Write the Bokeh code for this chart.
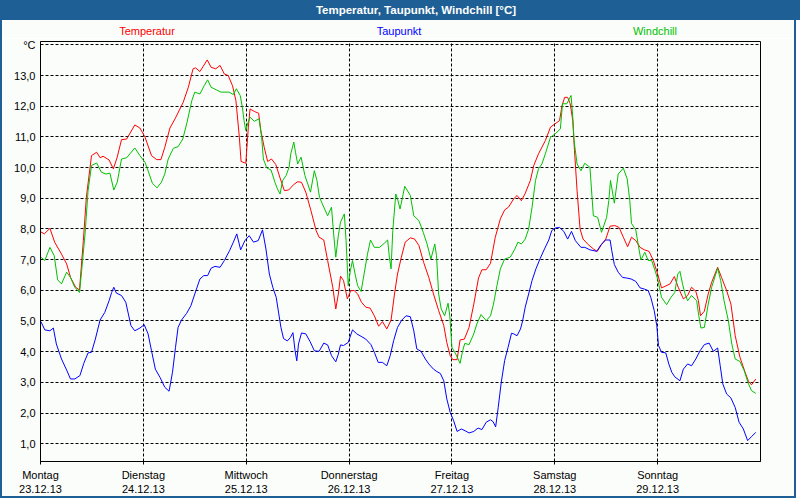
from bokeh.plotting import figure
from bokeh.models import Range1d, FixedTicker, Div
from bokeh.layouts import column
from bokeh.embed import file_html
from bokeh.resources import INLINE

FONT = "Liberation Sans"
BAR = "#1e5f95"
BG = "#fbfdfb"

# hours since Mon 23.12.13 00:00
day_hours = [0, 24, 48, 72, 96, 120, 144]
day_labels = ["Montag\n23.12.13", "Dienstag\n24.12.13", "Mittwoch\n25.12.13",
              "Donnerstag\n26.12.13", "Freitag\n27.12.13", "Samstag\n28.12.13",
              "Sonntag\n29.12.13"]
y_ticks = [1, 2, 3, 4, 5, 6, 7, 8, 9, 10, 11, 12, 13, 14]
y_labels = ["1,0", "2,0", "3,0", "4,0", "5,0", "6,0", "7,0", "8,0", "9,0",
            "10,0", "11,0", "12,0", "13,0", "°C"]

temp_h = [0.0, 0.9, 2.2, 3.3, 4.9, 6.1, 7.0, 8.2, 9.1, 10.0, 10.7, 11.9, 13.1, 13.9,
          14.6, 16.0, 17.0, 17.9, 18.9, 20.1, 22.0, 23.2, 24.4, 25.9, 27.1, 28.1,
          29.0, 30.2, 31.4, 33.3, 34.5, 35.6, 36.2, 37.2, 38.9, 39.8, 40.9, 41.9,
          42.9, 43.8, 44.8, 45.6, 46.4, 46.8, 47.9, 48.5, 48.9, 49.9, 50.9, 51.4,
          52.2, 53.0, 53.9, 54.9, 55.9, 56.9, 57.9, 59.1, 60.0, 60.9, 61.9, 63.1,
          64.3, 65.0, 66.1, 67.0, 68.2, 68.9, 69.5, 70.0, 70.7, 71.6, 72.4, 73.2,
          74.0, 74.9, 75.9, 76.9, 77.9, 78.9, 79.8, 80.8, 81.8, 82.6, 83.3, 84.2,
          85.1, 86.3, 87.3, 88.3, 89.4, 90.6, 91.7, 92.9, 94.1, 94.8, 95.6, 96.2,
          97.2, 97.9, 98.9, 100.0, 101.1, 102.2, 103.0, 104.0, 105.0, 106.1, 107.3,
          108.3, 109.2, 110.4, 111.2, 112.2, 113.1, 114.3, 115.1, 116.2, 117.8,
          119.0, 120.0, 121.1, 121.7, 122.3, 123.0, 123.6, 124.2, 124.6, 125.2,
          125.9, 126.6, 127.8, 129.0, 129.9, 130.9, 131.9, 132.9, 134.0, 135.0,
          136.0, 137.0, 137.9, 138.9, 139.9, 140.9, 142.0, 143.0, 144.0, 144.9,
          145.9, 146.9, 147.9, 148.8, 150.0, 151.0, 151.9, 152.9, 153.5, 154.0,
          154.9, 155.8, 156.6, 158.0, 158.9, 160.1, 161.1, 162.1, 163.2, 164.4,
          165.2, 165.9, 166.9]
temp_c = [7.91, 7.84, 8.02, 7.57, 7.18, 6.86, 6.42, 6.10, 6.01, 7.62, 9.03, 10.39,
          10.50, 10.32, 10.37, 10.25, 9.96, 10.34, 10.91, 10.93, 11.39, 11.29, 10.99,
          10.39, 10.26, 10.26, 10.66, 11.29, 11.59, 12.13, 12.62, 13.22, 13.25,
          13.13, 13.51, 13.27, 13.22, 13.33, 13.05, 13.00, 12.67, 12.18, 10.99,
          10.20, 10.14, 11.32, 11.91, 11.83, 11.77, 11.21, 10.66, 10.20, 10.28,
          10.10, 9.66, 9.25, 9.27, 9.45, 9.54, 9.52, 9.20, 8.60, 7.95, 7.73, 7.64,
          6.97, 6.10, 5.39, 5.88, 6.46, 6.32, 5.72, 5.99, 5.99, 5.88, 5.61, 5.45,
          5.42, 5.17, 4.83, 4.98, 4.74, 5.03, 5.88, 6.53, 7.08, 7.57, 7.71, 7.67,
          7.46, 6.91, 6.42, 5.88, 5.34, 4.85, 4.30, 3.87, 3.74, 3.74, 4.38, 4.41,
          4.79, 5.55, 6.40, 6.67, 6.67, 6.88, 7.72, 8.33, 8.62, 8.71, 8.98, 9.09,
          8.92, 9.16, 9.58, 10.07, 10.45, 10.88, 11.32, 11.42, 11.53, 12.02, 12.29,
          12.29, 12.08, 11.53, 10.55, 9.25, 8.00, 7.67, 7.49, 7.35, 7.27, 7.49, 7.67,
          8.09, 8.11, 8.05, 7.73, 7.42, 7.73, 7.62, 7.40, 7.32, 7.27, 6.97, 6.53,
          6.08, 6.14, 6.21, 6.45, 6.10, 5.72, 5.83, 6.10, 5.97, 5.67, 5.17, 5.32,
          5.88, 6.26, 6.75, 6.42, 5.99, 5.55, 4.52, 3.82, 3.33, 3.03, 2.92, 3.11]

dew_h = [0.1, 1.0, 2.2, 3.0, 3.7, 4.9, 6.1, 7.0, 8.0, 9.2, 10.1, 11.1, 11.9, 12.8,
         13.9, 15.0, 16.0, 16.6, 17.1, 17.7, 18.9, 19.9, 20.5, 21.1, 22.0, 23.2,
         24.2, 25.1, 25.9, 26.8, 27.9, 29.0, 30.0, 30.8, 31.5, 32.1, 32.9, 34.1,
         35.1, 36.0, 37.2, 38.1, 39.0, 39.8, 40.7, 41.9, 42.9, 44.1, 45.0, 45.8,
         46.7, 47.7, 48.7, 49.7, 50.8, 51.8, 52.6, 53.4, 54.2, 55.0, 55.6, 56.1,
         56.7, 57.6, 58.3, 58.9, 59.4, 59.8, 60.2, 60.9, 61.9, 62.9, 63.9, 65.0,
         66.1, 67.0, 67.9, 68.9, 69.5, 70.0, 70.7, 71.8, 72.8, 73.8, 74.8, 75.9,
         77.1, 77.9, 78.8, 79.8, 80.8, 81.6, 82.4, 83.3, 84.3, 85.3, 86.3, 87.1,
         87.8, 88.8, 89.8, 90.6, 91.7, 92.5, 93.3, 94.1, 94.8, 95.6, 96.4, 97.2,
         98.2, 99.1, 100.0, 101.1, 102.1, 103.0, 104.0, 105.0, 105.6, 106.2, 106.8,
         107.5, 108.3, 109.1, 109.9, 110.4, 111.2, 112.0, 112.5, 113.1, 113.9,
         114.7, 115.6, 116.6, 117.6, 118.6, 119.3, 120.1, 121.1, 122.1, 123.0,
         123.9, 124.8, 126.1, 127.0, 128.2, 129.8, 130.8, 131.9, 132.9, 133.3,
         133.9, 134.8, 135.8, 136.8, 137.8, 138.9, 139.9, 140.9, 141.8, 142.4,
         143.2, 143.8, 144.2, 144.9, 145.9, 146.6, 147.3, 148.0, 149.2, 150.0,
         151.0, 151.9, 152.9, 153.9, 154.9, 156.0, 157.0, 158.0, 158.6, 159.2,
         160.1, 161.1, 162.1, 163.0, 164.0, 165.0, 165.9, 166.9]
dew_c = [4.98, 4.71, 4.68, 4.77, 4.25, 3.76, 3.40, 3.11, 3.11, 3.22, 3.62, 3.96, 3.98,
         4.41, 5.03, 5.28, 5.66, 5.93, 6.10, 5.91, 5.83, 5.61, 5.23, 4.85, 4.68, 4.77,
         4.88, 4.58, 4.03, 3.43, 3.16, 2.84, 2.71, 3.33, 4.14, 4.79, 5.03, 5.25, 5.50,
         5.88, 6.37, 6.48, 6.48, 6.72, 6.78, 6.75, 6.97, 7.29, 7.57, 7.84, 7.32, 7.62,
         7.78, 7.57, 7.62, 7.97, 7.35, 6.53, 6.10, 5.77, 5.23, 4.79, 4.43, 4.35, 4.46,
         4.62, 4.03, 3.70, 4.25, 4.61, 4.58, 4.33, 4.03, 4.01, 4.28, 4.22, 3.87, 3.67,
         3.92, 4.22, 4.20, 4.30, 4.71, 4.58, 4.50, 4.41, 4.23, 3.98, 3.65, 3.65, 3.54,
         3.87, 4.36, 4.79, 5.03, 5.17, 5.14, 4.68, 4.09, 4.01, 3.76, 3.60, 3.43, 3.35,
         3.29, 3.05, 2.46, 2.02, 1.75, 1.40, 1.48, 1.42, 1.35, 1.40, 1.51, 1.46, 1.70,
         1.78, 1.72, 1.55, 2.18, 2.99, 3.71, 4.14, 4.60, 4.58, 4.52, 4.74, 5.01, 5.45,
         5.88, 6.32, 6.70, 7.04, 7.35, 7.64, 7.95, 8.03, 8.05, 7.92, 7.67, 7.92, 7.62,
         7.40, 7.40, 7.32, 7.27, 7.49, 7.64, 7.64, 7.29, 6.84, 6.59, 6.42, 6.40, 6.37,
         6.29, 6.08, 6.04, 5.99, 5.77, 5.34, 4.85, 4.20, 3.98, 3.96, 3.60, 3.33, 3.18,
         3.05, 3.43, 3.60, 3.54, 3.76, 4.03, 4.23, 4.28, 4.01, 4.12, 3.54, 2.95, 2.62,
         2.49, 2.18, 1.70, 1.48, 1.10, 1.23, 1.37]

chill_h = [0.1, 1.0, 2.2, 3.2, 4.0, 4.9, 6.1, 7.0, 8.0, 9.1, 9.6, 10.4, 11.1, 11.9,
           13.1, 14.2, 15.3, 16.2, 17.1, 17.9, 18.9, 20.1, 22.0, 23.2, 24.4, 25.1,
           26.1, 27.2, 28.2, 29.0, 29.8, 31.0, 32.1, 33.2, 34.2, 35.3, 36.0, 37.2,
           38.2, 39.0, 39.8, 41.1, 42.1, 44.0, 45.0, 45.7, 46.6, 47.1, 47.5, 47.9,
           48.3, 48.9, 49.9, 51.0, 51.6, 52.0, 52.8, 53.8, 54.7, 55.3, 55.9, 56.5,
           57.3, 58.0, 58.4, 59.1, 59.5, 60.0, 60.8, 61.7, 63.0, 63.9, 64.5, 65.1,
           66.1, 67.0, 67.9, 68.4, 68.9, 69.5, 70.0, 70.9, 71.3, 71.8, 72.3, 72.8,
           73.4, 74.0, 74.8, 75.5, 76.3, 77.0, 77.9, 79.1, 80.2, 81.0, 81.4, 81.8,
           82.2, 82.9, 83.3, 83.9, 85.0, 86.3, 87.1, 88.3, 89.3, 90.2, 91.1, 92.0,
           92.4, 92.9, 93.5, 94.3, 95.1, 95.5, 96.0, 96.9, 97.9, 98.5, 99.0, 100.0,
           101.1, 101.8, 102.8, 104.0, 105.0, 105.7, 106.5, 107.3, 108.3, 109.6,
           110.6, 111.4, 112.2, 113.1, 113.9, 114.7, 115.5, 116.2, 117.0, 117.8,
           119.0, 120.1, 121.3, 121.8, 122.8, 123.4, 123.8, 124.2, 124.5, 125.2,
           126.1, 127.0, 128.2, 129.0, 130.0, 130.9, 132.1, 132.6, 133.0, 133.9,
           134.8, 136.0, 136.9, 137.5, 137.9, 138.9, 139.5, 140.1, 141.0, 141.8,
           142.6, 143.4, 144.0, 144.9, 146.1, 147.1, 148.0, 148.7, 149.2, 149.8,
           150.4, 151.0, 151.9, 153.1, 153.6, 154.1, 154.9, 155.8, 156.6, 158.0,
           158.7, 159.5, 160.5, 161.3, 162.1, 163.2, 164.2, 165.2, 165.9, 166.9]
chill_c = [7.08, 6.97, 7.40, 7.13, 6.34, 6.21, 6.59, 6.42, 6.10, 5.93, 6.64, 7.84,
           9.25, 10.07, 10.15, 9.85, 9.79, 9.82, 9.27, 9.52, 10.28, 10.32, 10.64,
           10.39, 10.17, 9.90, 9.49, 9.34, 9.52, 9.79, 10.28, 10.63, 10.68, 10.93,
           11.48, 12.18, 12.46, 12.40, 12.67, 12.86, 12.62, 12.53, 12.46, 12.46,
           12.38, 12.57, 12.35, 11.97, 11.53, 11.21, 11.42, 11.64, 11.51, 11.59,
           10.99, 10.28, 9.99, 9.92, 9.52, 9.30, 9.14, 9.58, 9.74, 10.01, 10.45,
           10.83, 10.50, 10.12, 10.34, 9.74, 9.20, 9.90, 9.58, 9.03, 8.71, 8.43,
           8.71, 7.84, 7.08, 7.79, 8.22, 8.49, 7.62, 6.15, 6.64, 6.97, 6.53, 6.15,
           5.96, 6.53, 7.18, 7.64, 7.40, 7.40, 7.53, 7.64, 7.08, 6.70, 7.95, 9.14,
           8.98, 8.65, 9.39, 9.09, 8.43, 8.27, 7.89, 7.51, 7.02, 7.51, 7.13, 5.88,
           5.39, 5.17, 5.58, 5.17, 4.14, 3.92, 3.62, 4.03, 4.27, 4.23, 4.58, 4.90,
           5.21, 5.01, 5.17, 5.55, 6.15, 6.70, 7.02, 7.08, 7.32, 7.57, 7.51, 7.67,
           8.00, 8.71, 9.58, 9.96, 10.12, 10.45, 10.99, 11.10, 11.26, 12.08, 12.08,
           12.24, 12.35, 11.64, 10.88, 10.12, 9.90, 10.14, 10.01, 8.43, 8.38, 7.89,
           8.38, 8.92, 9.58, 8.84, 9.79, 9.98, 9.63, 8.92, 8.18, 7.97, 7.46, 6.99,
           7.24, 6.97, 6.97, 6.64, 6.37, 5.77, 5.53, 5.77, 5.93, 6.53, 6.62, 6.21,
           5.88, 5.66, 5.83, 5.66, 5.17, 4.77, 4.79, 5.55, 6.10, 6.72, 6.32, 5.66,
           5.01, 4.25, 3.76, 3.68, 3.38, 2.95, 2.73, 2.64]

series = [("Temperatur", temp_h, temp_c, "#ff0000", 250),
          ("Taupunkt", dew_h, dew_c, "#0000ff", 254),
          ("Windchill", chill_h, chill_c, "#00c000", 258)]

side = f"2px solid {BAR}"

p = figure(width=796, height=460, output_backend="svg", toolbar_location=None,
           x_range=Range1d(0, 168), y_range=Range1d(0.42, 14.11),
           min_border_left=38, min_border_right=38, min_border_top=3,
           min_border_bottom=37, background_fill_color=BG, border_fill_color=BG,
           outline_line_color="black", outline_line_width=1)
p.styles = {"border-left": side, "border-right": side, "border-bottom": side}

for name, hx, vals, color, w in series:
    p.line(hx, vals, line_color=color, line_width=1)

p.xaxis.ticker = FixedTicker(ticks=day_hours)
p.xaxis.major_label_overrides = dict(zip(day_hours, day_labels))
p.yaxis.ticker = FixedTicker(ticks=y_ticks)
p.yaxis.major_label_overrides = dict(zip(y_ticks, y_labels))

for ax in (p.xaxis, p.yaxis):
    ax.axis_line_color = "black"
    ax.major_tick_line_color = "black"
    ax.minor_tick_line_color = None
    ax.major_label_text_font = FONT
    ax.major_label_text_font_size = "11px"
    ax.major_label_text_color = "black"
p.xaxis.major_tick_out = 3
p.xaxis.major_tick_in = 0
p.xaxis.major_label_standoff = 4
p.yaxis.major_tick_out = 0
p.yaxis.major_tick_in = 0
p.yaxis.major_label_standoff = 5

for g in (p.xgrid, p.ygrid):
    g.grid_line_color = "black"
    g.grid_line_dash = "3 2"
    g.grid_line_width = 1

title = Div(text="Temperatur, Taupunkt, Windchill [°C]", width=800, height=20, margin=0,
            styles={"background-color": BAR, "color": "white", "font-family": FONT,
                    "font-weight": "bold", "font-size": "11.5px", "text-align": "center",
                    "line-height": "20px", "padding-left": "32px",
                    "box-sizing": "border-box"})

spans = "".join(
    f'<span style="display:inline-block;width:{w}px;text-align:center;color:{color}">'
    f'{name}</span>' for name, hx, vals, color, w in series)
legend = Div(text=f'<div style="padding:5px 0 0 20px;line-height:13px;white-space:nowrap">'
                  f'{spans}</div>',
             width=796, height=18, margin=0,
             styles={"background-color": BG, "font-family": FONT, "font-size": "11px",
                     "border-left": side, "border-right": side})

layout = column(title, legend, p, spacing=0)

open("out.html", "w").write(file_html(layout, INLINE))
